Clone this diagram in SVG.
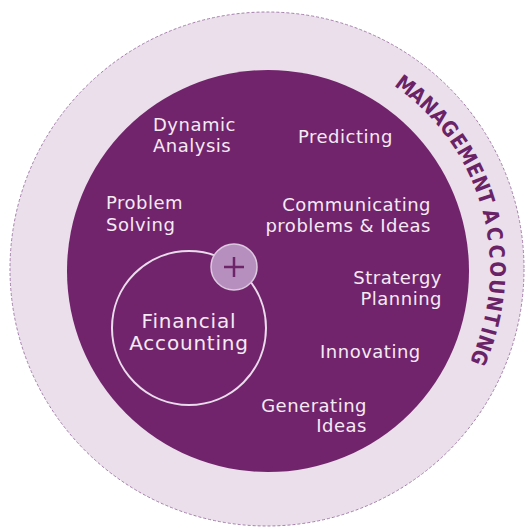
<svg xmlns="http://www.w3.org/2000/svg" width="526" height="529" viewBox="0 0 526 529">
<style>
.lbl{font-family:"DejaVu Sans","Liberation Sans",sans-serif;font-size:18px;fill:#f4eaf4;letter-spacing:0.5px}
.big{font-family:"DejaVu Sans","Liberation Sans",sans-serif;font-size:20px;fill:#f4eaf4;letter-spacing:0.8px}
.arc{font-family:"DejaVu Sans","Liberation Sans",sans-serif;font-size:21px;font-weight:bold;fill:#6a2366;text-anchor:middle}
</style>
<g id="outer">
<circle cx="267" cy="269" r="257" fill="#ebdfec" stroke="#a57fab" stroke-width="1" stroke-dasharray="3 2"/>
</g>
<g id="management">
<circle cx="268" cy="271" r="201" fill="#71246b"/>
</g>
<g id="management-label" transform="translate(267 269)">
<text class="arc" transform="rotate(37.0) translate(0 -223) scale(0.88 1)">M</text>
<text class="arc" transform="rotate(40.9) translate(0 -223) scale(0.88 1)">A</text>
<text class="arc" transform="rotate(44.7) translate(0 -223) scale(0.88 1)">N</text>
<text class="arc" transform="rotate(48.5) translate(0 -223) scale(0.88 1)">A</text>
<text class="arc" transform="rotate(52.4) translate(0 -223) scale(0.88 1)">G</text>
<text class="arc" transform="rotate(56.3) translate(0 -223) scale(0.88 1)">E</text>
<text class="arc" transform="rotate(60.4) translate(0 -223) scale(0.88 1)">M</text>
<text class="arc" transform="rotate(64.5) translate(0 -223) scale(0.88 1)">E</text>
<text class="arc" transform="rotate(68.3) translate(0 -223) scale(0.88 1)">N</text>
<text class="arc" transform="rotate(71.9) translate(0 -223) scale(0.88 1)">T</text>
<text class="arc" transform="rotate(76.8) translate(0 -223) scale(0.88 1)">A</text>
<text class="arc" transform="rotate(81.2) translate(0 -223) scale(0.88 1)">C</text>
<text class="arc" transform="rotate(85.6) translate(0 -223) scale(0.88 1)">C</text>
<text class="arc" transform="rotate(90.0) translate(0 -223) scale(0.88 1)">O</text>
<text class="arc" transform="rotate(94.4) translate(0 -223) scale(0.88 1)">U</text>
<text class="arc" transform="rotate(98.7) translate(0 -223) scale(0.88 1)">N</text>
<text class="arc" transform="rotate(102.6) translate(0 -223) scale(0.88 1)">T</text>
<text class="arc" transform="rotate(105.7) translate(0 -223) scale(0.88 1)">I</text>
<text class="arc" transform="rotate(108.8) translate(0 -223) scale(0.88 1)">N</text>
<text class="arc" transform="rotate(112.6) translate(0 -223) scale(0.88 1)">G</text>
</g>
<g id="items">
<text class="lbl" x="153" y="131">Dynamic</text>
<text class="lbl" x="153" y="152">Analysis</text>
<text class="lbl" x="106" y="209">Problem</text>
<text class="lbl" x="106" y="231">Solving</text>
<text class="lbl" x="298" y="143">Predicting</text>
<text class="lbl" x="431" y="211" text-anchor="end">Communicating</text>
<text class="lbl" x="431" y="232" text-anchor="end">problems &amp; Ideas</text>
<text class="lbl" x="442" y="284" text-anchor="end">Stratergy</text>
<text class="lbl" x="442" y="305" text-anchor="end">Planning</text>
<text class="lbl" x="320" y="358">Innovating</text>
<text class="lbl" x="367" y="412" text-anchor="end">Generating</text>
<text class="lbl" x="367" y="432" text-anchor="end">Ideas</text>
</g>
<g id="financial">
<circle cx="189" cy="328" r="77" fill="none" stroke="#eadcec" stroke-width="2"/>
<text class="big" x="189" y="328" text-anchor="middle">Financial</text>
<text class="big" x="189" y="350" text-anchor="middle">Accounting</text>
</g>
<g id="plus">
<circle cx="234" cy="267" r="23" fill="#b78fbf" stroke="#dcc8df" stroke-width="1.5"/>
<path d="M 234 257 V 277 M 224 267 H 244" stroke="#6e2468" stroke-width="2.5" fill="none"/>
</g>
</svg>
